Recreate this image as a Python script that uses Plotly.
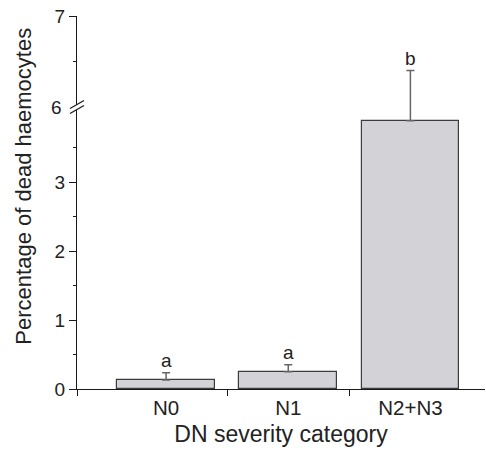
import plotly.graph_objects as go

categories = ["N0", "N1", "N2+N3"]
means = [0.13, 0.25, 5.85]
err_plus = [0.105, 0.10, 0.55]
letters = ["a", "a", "b"]
lower_ticks = [0, 1, 2, 3]
lower_minor = [0.5, 1.5, 2.5, 3.5]
upper_ticks = [6, 7]
upper_minor = [6.5]

# ---- broken axis mapping (lower segment 0..~4, upper segment 6..7) ----
LOWER_MAX = 4.0
BREAK_AT = 6.0
BREAK_POS = 4.087
UPPER_SCALE = 1.319


def to_axis(v):
    return v if v <= LOWER_MAX else BREAK_POS + (v - BREAK_AT) * UPPER_SCALE


x_pos = list(range(len(categories)))
bar_y = [to_axis(m) for m in means]
err_y = [to_axis(m + e) - to_axis(m) for m, e in zip(means, err_plus)]

FONT = "Liberation Sans, Arial, Helvetica, sans-serif"
TXT = "#222222"
AX = "#1a1a1a"

x_min = -0.5 - 28 / 122
x_max = 2.5 + 13.5 / 122

fig = go.Figure()
fig.add_trace(go.Bar(
    x=x_pos, y=bar_y, width=0.8,
    marker=dict(color="#d3d3d7", line=dict(color="#3c3c3c", width=1.2)),
    error_y=dict(type="data", array=err_y, symmetric=False, arrayminus=[0] * 3,
                 color="#666666", thickness=1.5, width=4),
    showlegend=False, hoverinfo="skip",
))

annotations = []
for xi, m, e, lab in zip(x_pos, means, err_plus, letters):
    annotations.append(dict(x=xi, y=to_axis(m + e), text=lab, showarrow=False,
                            xref="x", yref="y", yanchor="bottom", yshift=0,
                            font=dict(family=FONT, size=19, color=TXT)))
# "6" label at the break
annotations.append(dict(x=0, y=BREAK_POS, xref="paper", yref="y", text="6",
                        showarrow=False, xanchor="right", xshift=-13,
                        font=dict(family=FONT, size=19, color=TXT)))
# y title
annotations.append(dict(x=-0.131, y=0.544, xref="paper", yref="paper",
                        text="Percentage of dead haemocytes", textangle=-90,
                        showarrow=False, xanchor="center", yanchor="middle",
                        font=dict(family=FONT, size=22, color=TXT)))

shapes = []
# white gap in axis at the break
shapes.append(dict(type="line", xref="paper", yref="y", xsizemode="pixel",
                   ysizemode="pixel", xanchor=0, yanchor=BREAK_POS,
                   x0=-3, x1=3, y0=-2, y1=2, line=dict(color="white", width=4)))
for off in (-2.5, 2.5):
    shapes.append(dict(type="line", xref="paper", yref="y", xsizemode="pixel",
                       ysizemode="pixel", xanchor=0, yanchor=BREAK_POS,
                       x0=-7, x1=7, y0=off - 4, y1=off + 4,
                       line=dict(color=AX, width=1.3)))

yt_vals = [to_axis(v) for v in lower_ticks] + [to_axis(upper_ticks[-1])]
yt_text = [str(v) for v in lower_ticks] + [str(upper_ticks[-1])]
ym_vals = [to_axis(v) for v in lower_minor + upper_minor]

fig.update_layout(
    width=486, height=456,
    margin=dict(l=77, r=1, t=16, b=67, autoexpand=False),
    paper_bgcolor="white", plot_bgcolor="white",
    font=dict(family=FONT, size=19, color=TXT),
    annotations=annotations, shapes=shapes,
    bargap=0,
    xaxis=dict(
        range=[x_min, x_max], tickmode="array", tickvals=x_pos, ticktext=categories,
        ticks="", showline=True, linecolor=AX, linewidth=1.3, showgrid=False,
        zeroline=False, automargin=False,
        tickfont=dict(family=FONT, size=20.5, color=TXT),
        minor=dict(tickmode="array", tickvals=[x_min, 0.5, 1.5], ticks="outside",
                   ticklen=6, tickcolor=AX, tickwidth=1.3, showgrid=False),
        title=dict(text="DN severity category", font=dict(family=FONT, size=23, color=TXT),
                   standoff=8),
    ),
    yaxis=dict(
        range=[0, to_axis(upper_ticks[-1])], tickmode="array", tickvals=yt_vals,
        ticktext=yt_text, ticks="outside", ticklen=7, tickcolor=AX, tickwidth=1.3,
        showline=True, linecolor=AX, linewidth=1.3, showgrid=False, zeroline=False,
        automargin=False,
        tickfont=dict(family=FONT, size=19, color=TXT),
        minor=dict(tickmode="array", tickvals=ym_vals, ticks="outside", ticklen=3,
                   tickcolor=AX, tickwidth=1.3, showgrid=False),
    ),
)

fig.write_html("out.html", config={"displayModeBar": False},
               post_script="document.body.style.margin='0px';")
